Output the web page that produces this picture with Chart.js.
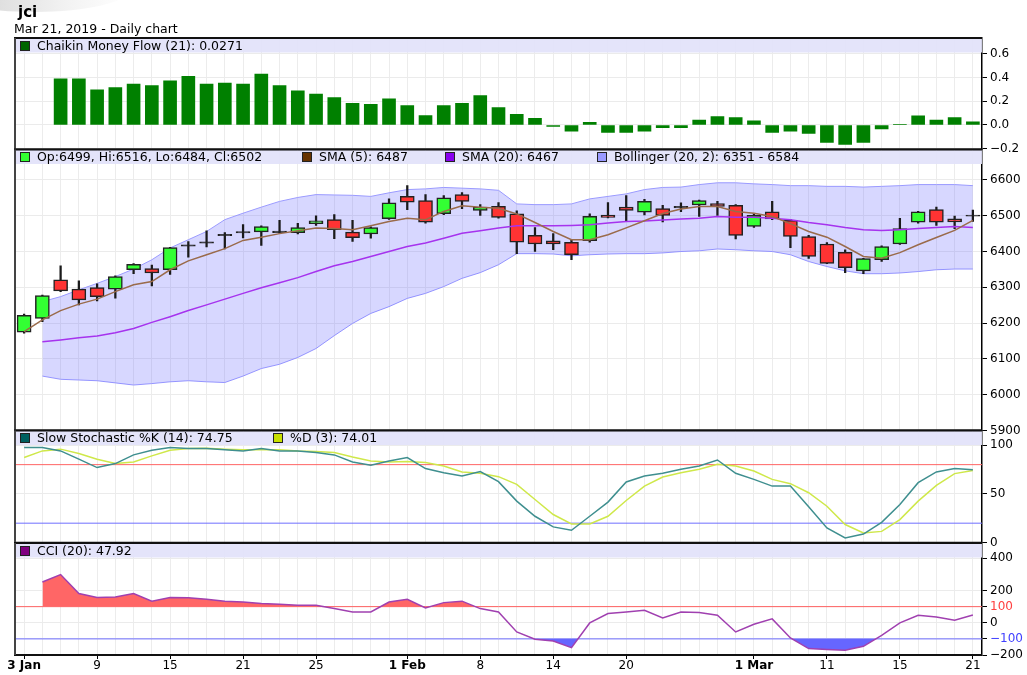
<!DOCTYPE html>
<html>
<head>
<meta charset="utf-8">
<script src="https://cdn.jsdelivr.net/npm/chart.js@4.4.0/dist/chart.umd.min.js"></script>
<style>
  body { margin: 0; background: #fff; width: 1027px; height: 675px; overflow: hidden; position: relative; font-family: "DejaVu Sans", sans-serif; }
  canvas { position: absolute; left: 0; }
  .txt { position: absolute; white-space: nowrap; color: #000; z-index: 2; }
  .hdr { position: absolute; white-space: nowrap; font-size: 12.5px; line-height: 14px; color: #000; z-index: 2; }
  .sq { display: inline-block; width: 8px; height: 8px; border: 1px solid #222; margin-right: 7px; vertical-align: -1px; }
  .swoosh { position: absolute; left: -60px; top: -34px; width: 190px; height: 46px; border-radius: 50%;
            background: linear-gradient(to right, #cfcfcf, #f4f4f4 70%, #fff); z-index: 1; }
</style>
</head>
<body>
<div class="swoosh"></div>
<div class="txt" style="left:18px;top:3px;font-weight:bold;font-size:15px;">jci</div>
<div class="txt" style="left:14px;top:21px;font-size:12.5px;">Mar 21, 2019 - Daily chart</div>

<div class="hdr" style="left:20px;top:38.5px;"><span class="sq" style="background:#006400"></span>Chaikin Money Flow (21): 0.0271</div>

<div class="hdr" style="left:20px;top:150px;"><span class="sq" style="background:#33ff33"></span>Op:6499, Hi:6516, Lo:6484, Cl:6502</div>
<div class="hdr" style="left:302px;top:150px;"><span class="sq" style="background:#663300"></span>SMA (5): 6487</div>
<div class="hdr" style="left:445px;top:150px;"><span class="sq" style="background:#8800ee"></span>SMA (20): 6467</div>
<div class="hdr" style="left:597px;top:150px;"><span class="sq" style="background:#9999ff"></span>Bollinger (20, 2): 6351 - 6584</div>

<div class="hdr" style="left:20px;top:431px;"><span class="sq" style="background:#006060"></span>Slow Stochastic %K (14): 74.75</div>
<div class="hdr" style="left:273px;top:431px;"><span class="sq" style="background:#c8e000"></span>%D (3): 74.01</div>

<div class="hdr" style="left:20px;top:543.5px;"><span class="sq" style="background:#800080"></span>CCI (20): 47.92</div>

<script>
// trading days shown on the chart
const days = ['3 Jan','4 Jan','7 Jan','8 Jan','9 Jan','10 Jan','11 Jan','14 Jan','15 Jan','16 Jan','17 Jan','18 Jan',
  '21 Jan','22 Jan','23 Jan','24 Jan','25 Jan','28 Jan','29 Jan','30 Jan','31 Jan',
  '1 Feb','4 Feb','6 Feb','7 Feb','8 Feb','11 Feb','12 Feb','13 Feb','14 Feb','15 Feb','18 Feb','19 Feb','20 Feb',
  '21 Feb','22 Feb','25 Feb','26 Feb','27 Feb','28 Feb',
  '1 Mar','4 Mar','5 Mar','6 Mar','11 Mar','12 Mar','13 Mar','14 Mar','15 Mar','18 Mar','19 Mar','20 Mar','21 Mar'];
const shownDays = ['3 Jan','9 Jan','15 Jan','21 Jan','25 Jan','1 Feb','8 Feb','14 Feb','20 Feb','1 Mar','11 Mar','15 Mar','21 Mar'];

// price candles
const opens  = [6175,6213,6321,6295,6299,6295,6349,6352,6349,6415,6423,6444,6452,6455,6453,6453,6478,6489,6454,6449,
  6492,6554,6542,6506,6559,6515,6526,6505,6445,6430,6426,6430,6502,6524,6510,6520,6522,6530,6534,6529,
  6470,6511,6487,6442,6421,6398,6346,6377,6421,6482,6517,6491,6499];
const highs  = [6225,6278,6360,6318,6310,6332,6366,6362,6412,6428,6458,6453,6475,6472,6487,6479,6500,6503,6487,6469,
  6547,6584,6559,6556,6565,6531,6537,6514,6467,6450,6434,6505,6537,6556,6546,6529,6536,6544,6540,6531,
  6506,6540,6490,6445,6425,6405,6381,6416,6493,6512,6524,6499,6516];
const lows   = [6172,6204,6288,6251,6262,6270,6338,6304,6336,6384,6413,6407,6438,6417,6451,6449,6473,6436,6428,6437,
  6490,6517,6479,6503,6520,6501,6493,6394,6400,6405,6377,6426,6494,6484,6502,6483,6511,6498,6501,6435,
  6467,6489,6411,6381,6366,6341,6338,6372,6420,6479,6473,6464,6484];
const closes = [6222,6277,6290,6265,6274,6330,6364,6340,6411,6419,6427,6448,6456,6470,6457,6467,6486,6461,6439,6467,
  6536,6538,6482,6550,6540,6524,6495,6426,6421,6421,6391,6498,6495,6515,6540,6501,6526,6542,6526,6445,
  6501,6491,6442,6386,6367,6355,6380,6414,6464,6511,6482,6483,6502];

// indicators on the price panel
const sma5 = [6176,6209,6235,6253,6267,6288,6307,6316,6349,6374,6391,6408,6431,6440,6450,6458,6466,6464,6461,6472,
  6484,6493,6489,6512,6528,6524,6521,6505,6481,6456,6433,6433,6447,6466,6486,6506,6519,6526,6526,6512,
  6507,6498,6478,6456,6440,6414,6386,6381,6397,6419,6439,6459,6487];
const sma20 = [null,6148,6153,6159,6164,6173,6185,6202,6218,6235,6251,6267,6283,6299,6313,6327,6344,6360,6372,6386,
  6400,6414,6424,6437,6451,6458,6466,6472,6472,6472,6473,6475,6480,6484,6485,6488,6491,6493,6498,6496,
  6496,6493,6489,6481,6475,6467,6461,6459,6461,6464,6467,6470,6467];
const bollUpper = [null,6260,6274,6293,6311,6330,6351,6377,6410,6433,6456,6489,6507,6524,6540,6551,6559,6558,6557,6554,
  6564,6573,6575,6579,6577,6575,6571,6533,6531,6531,6533,6547,6554,6561,6573,6579,6580,6587,6592,6592,
  6589,6587,6584,6584,6582,6582,6580,6582,6584,6587,6587,6587,6584];
const bollLower = [null,6052,6043,6041,6039,6033,6027,6031,6036,6039,6036,6034,6052,6073,6085,6104,6129,6165,6199,6227,
  6246,6269,6283,6302,6325,6341,6363,6394,6394,6393,6388,6391,6393,6394,6394,6396,6400,6402,6407,6405,
  6402,6400,6391,6372,6358,6346,6338,6338,6340,6344,6349,6351,6351];

// Chaikin money flow
const cmf = [null,null,0.388,0.388,0.295,0.315,0.343,0.332,0.371,0.408,0.343,0.352,0.343,0.428,0.332,0.287,0.259,0.231,0.183,0.174,
  0.219,0.163,0.079,0.163,0.183,0.248,0.146,0.090,0.056,-0.012,-0.051,0.022,-0.062,-0.062,-0.051,-0.023,-0.023,0.042,0.070,0.062,
  0.034,-0.062,-0.051,-0.070,-0.146,-0.163,-0.146,-0.034,0.003,0.076,0.042,0.062,0.027];

// slow stochastic
const stochK = [97.6,97.6,94.1,85.6,77,81.1,90,94.8,97.6,96.6,96.6,95.2,94.1,96.6,94.1,94.1,92.5,90,82.8,79.4,
  83.8,87.3,76,71.8,68.4,72.9,62.6,42.6,27.1,16.2,12.7,27.1,41.6,62.2,68.4,71.1,75.3,78.7,84.8,71.1,
  64.9,58,58,36.8,15.1,4.8,8.9,20.9,39.2,61.5,72.5,76,74.75];
const stochD = [87.3,94.1,95.9,91.4,85.6,81.1,82.8,89,94.8,96.6,96.9,95.9,95.2,95.2,95.2,94.1,93.5,92.5,87.9,83.8,
  82.8,83.2,82.1,78.7,72.5,71.1,67.7,59.8,44.3,28.9,19.2,19.2,27.1,43.3,58,67.3,71.8,75.3,80.4,78.7,
  73.5,64.9,60.5,51.2,37.4,18.6,10,11.6,23.7,42.6,58.8,70.8,74.01];

// commodity channel index
const cci = [null,253,299,181,157,160,181,134,157,155,146,134,129,119,115,109,109,88,67,67,
  129,146,92,125,134,88,67,-57,-102,-113,-154,-1,57,67,78,30,67,63,47,-57,
  -9,24,-94,-160,-166,-171,-146,-78,-1,47,36,16,47.92];

// axis ticks and reference levels
const cmfTicks = [-0.2, 0, 0.2, 0.4, 0.6];
const priceTicks = [5900, 6000, 6100, 6200, 6300, 6400, 6500, 6600];
const stochTicks = [0, 50, 100];
const stochLevels = [80, 20];
const cciTicks = [-200, -100, 0, 100, 200, 400];
const cciLevels = [100, -100];

const FONT = 'DejaVu Sans';
const RED_LINE = '#ff6464';
const BLUE_LINE = '#6e6eff';

const panelFrame = {
  id: 'panelFrame',
  beforeDatasetsDraw(chart, args, opts) {
    const a = chart.chartArea, ctx = chart.ctx;
    ctx.save();
    ctx.fillStyle = 'rgba(226,226,250,0.92)';
    ctx.fillRect(a.left, a.top, a.right - a.left, 14.5);
    (opts.levels || []).forEach(function (l) {
      const y = chart.scales.y.getPixelForValue(l.value);
      ctx.strokeStyle = l.color;
      ctx.lineWidth = 1;
      ctx.beginPath();
      ctx.moveTo(a.left, y);
      ctx.lineTo(a.right, y);
      ctx.stroke();
    });
    ctx.restore();
  },
  afterDraw(chart) {
    const a = chart.chartArea, ctx = chart.ctx;
    ctx.save();
    ctx.lineWidth = 2;
    ctx.strokeStyle = '#111';
    ctx.beginPath();
    ctx.moveTo(a.left - 1, a.top);
    ctx.lineTo(a.right, a.top);
    ctx.moveTo(a.left - 1, a.bottom);
    ctx.lineTo(a.right, a.bottom);
    ctx.stroke();
    ctx.strokeStyle = '#444';
    ctx.beginPath();
    ctx.moveTo(a.left, a.top);
    ctx.lineTo(a.left, a.bottom);
    ctx.stroke();
    ctx.restore();
  }
};
Chart.register(panelFrame);

function isMonthMark(i) {
  return i === 0 || days[i].startsWith('1 ');
}
function tickText(i) {
  const d = days[i];
  if (!shownDays.includes(d)) return '';
  return isMonthMark(i) ? d : d.split(' ')[0];
}

function xScale(showLabels) {
  return {
    type: 'category',
    offset: true,
    grid: {
      offset: false, color: '#ececec', lineWidth: 1, drawTicks: showLabels, tickLength: 4,
      tickColor: c => (shownDays.includes(days[c.index]) ? '#000' : 'rgba(0,0,0,0)')
    },
    border: { display: false },
    ticks: {
      display: showLabels, autoSkip: false, maxRotation: 0, padding: 0, color: '#000',
      font: c => ({ family: FONT, size: 12, weight: isMonthMark(c.index) ? 'bold' : 'normal' }),
      callback: (v, i) => tickText(i)
    },
    afterFit: s => { s.paddingLeft = 0; s.paddingRight = 0; s.height = showLabels ? 20 : 0; }
  };
}

function yScale(min, max, vals, fmt, color) {
  return {
    position: 'right',
    min: min,
    max: max,
    afterBuildTicks: s => { s.ticks = vals.map(v => ({ value: v })); },
    grid: { color: '#ebebeb', tickColor: '#000', tickLength: 5 },
    border: { color: '#000', width: 1.5 },
    ticks: { color: color || '#000', padding: 3, font: { family: FONT, size: 12 }, callback: fmt },
    afterFit: s => { s.width = 45; s.paddingTop = 0; s.paddingBottom = 0; }
  };
}

function panelOptions(pad, x, y, levels) {
  return {
    responsive: false,
    animation: false,
    events: [],
    layout: { padding: { left: 15, right: 0, top: pad[0], bottom: pad[1] } },
    plugins: { legend: { display: false }, tooltip: { enabled: false }, panelFrame: { levels: levels || [] } },
    scales: { x: x, y: y }
  };
}

function makeCanvas(id, top, height) {
  const c = document.createElement('canvas');
  c.id = id;
  c.width = 1027;
  c.height = height;
  c.style.top = top + 'px';
  c.style.width = '1027px';
  c.style.height = height + 'px';
  document.body.appendChild(c);
  return c;
}

const minus = s => s.replace('-', '\u2212');

// body colour: tiny bodies (doji) show as a dark dash
function candleColor(o, c) {
  if (Math.abs(c - o) < 6) return '#222';
  return c >= o ? '#33ff33' : '#ff3333';
}

// Chaikin money flow panel
new Chart(makeCanvas('cmfChart', 28, 132), {
  type: 'bar',
  data: {
    labels: days,
    datasets: [{ data: cmf, backgroundColor: '#008000', barThickness: 13 }]
  },
  options: panelOptions([10, 10.5], xScale(false),
    yScale(-0.206, 0.731, cmfTicks, v => minus(v.toFixed(1))))
});

// price panel
new Chart(makeCanvas('priceChart', 140, 300), {
  type: 'bar',
  data: {
    labels: days,
    datasets: [
      { type: 'line', data: bollUpper, borderColor: '#9a9aff', borderWidth: 1, pointRadius: 0,
        fill: '+1', backgroundColor: 'rgba(110,110,255,0.28)', order: 10 },
      { type: 'line', data: bollLower, borderColor: '#9a9aff', borderWidth: 1, pointRadius: 0,
        fill: false, order: 10 },
      { data: lows.map((l, i) => [l, highs[i]]), backgroundColor: '#1a1a1a', barThickness: 1.6,
        grouped: false, order: 4 },
      { data: opens.map((o, i) => [o, closes[i]]),
        backgroundColor: opens.map((o, i) => candleColor(o, closes[i])),
        borderColor: '#222', borderWidth: 1.5, borderSkipped: false, barThickness: 14,
        grouped: false, order: 3 },
      { type: 'line', data: sma20, borderColor: '#a633ee', borderWidth: 1.5, pointRadius: 0, order: 1 },
      { type: 'line', data: sma5, borderColor: '#9a6b4b', borderWidth: 1.5, pointRadius: 0, order: 0 }
    ]
  },
  options: panelOptions([9.5, 9.5], xScale(false),
    yScale(5900, 6685, priceTicks, v => String(v)))
});

// slow stochastic panel
new Chart(makeCanvas('stochChart', 420, 133), {
  type: 'line',
  data: {
    labels: days,
    datasets: [
      { data: stochD, borderColor: '#cfe84a', borderWidth: 1.5, pointRadius: 0, order: 1 },
      { data: stochK, borderColor: '#3f8f8f', borderWidth: 1.5, pointRadius: 0, order: 0 }
    ]
  },
  options: panelOptions([10.5, 10.3], xScale(false),
    yScale(0, 115, stochTicks, v => String(v)),
    [{ value: stochLevels[0], color: RED_LINE }, { value: stochLevels[1], color: BLUE_LINE }])
});

// CCI panel
new Chart(makeCanvas('cciChart', 533, 142), {
  type: 'line',
  data: {
    labels: days,
    datasets: [
      { data: cci, borderColor: '#a040b0', borderWidth: 1.5, pointRadius: 0, order: 0,
        fill: { target: { value: cciLevels[0] }, above: '#ff6666', below: 'rgba(0,0,0,0)' } },
      { data: cci, borderColor: 'rgba(0,0,0,0)', borderWidth: 0, pointRadius: 0, order: 1,
        fill: { target: { value: cciLevels[1] }, above: 'rgba(0,0,0,0)', below: '#6666ff' } }
    ]
  },
  options: panelOptions([10, 0], xScale(true),
    yScale(-200, 495, cciTicks, v => minus(String(v)),
      c => (c.tick.value === 100 ? '#ff4040' : c.tick.value === -100 ? '#4040ff' : '#000')),
    [{ value: cciLevels[0], color: RED_LINE }, { value: cciLevels[1], color: BLUE_LINE }])
});
</script>
</body>
</html>
